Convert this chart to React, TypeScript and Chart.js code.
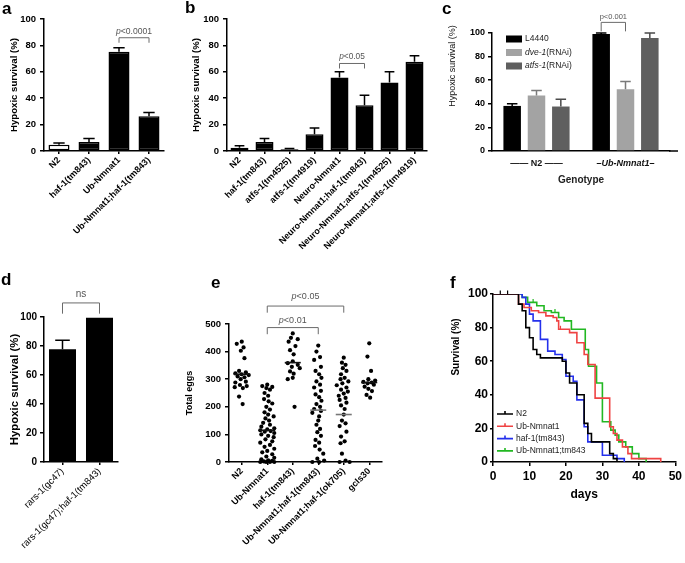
import React, { useEffect, useRef } from 'react';
import { Chart, registerables } from 'chart.js';

Chart.register(...registerables);

const FF = '"Liberation Sans", Arial, Helvetica, sans-serif';
const BLACK = '#000000';

// ---------------- Panel a ----------------
const aLabels = ['N2', 'haf-1(tm843)', 'Ub-Nmnat1', 'Ub-Nmnat1;haf-1(tm843)'];
const aMeans = [4.8, 6.8, 75.2, 26.3];
const aSem = [1.2, 2.6, 3.0, 2.8];
const aFills = ['#ffffff', '#000000', '#000000', '#000000'];

// ---------------- Panel b ----------------
const bLabels = [
  'N2', 'haf-1(tm843)', 'atfs-1(tm4525)', 'atfs-1(tm4919)', 'Neuro-Nmnat1',
  'Neuro-Nmnat1;haf-1(tm843)', 'Neuro-Nmnat1;atfs-1(tm4525)', 'Neuro-Nmnat1;atfs-1(tm4919)',
];
const bMeans = [2.5, 6.8, 1.3, 12.7, 55.7, 34.7, 51.9, 67.6];
const bSem = [1.5, 2.6, 0.5, 4.8, 4.3, 7.6, 8.1, 4.6];
const bFills = ['#ffffff', '#000000', '#000000', '#000000', '#000000', '#000000', '#000000', '#000000'];

// ---------------- Panel c ----------------
const cGroups = ['N2', 'Ub-Nmnat1'];
const cSeriesNames = ['L4440', 'dve-1', 'atfs-1'];
const cL4440 = [38.2, 99.2];
const cL4440Sem = [1.8, 0.8];
const cDve = [47.0, 52.4];
const cDveSem = [4.3, 6.5];
const cAtfs = [37.7, 95.8];
const cAtfsSem = [6.2, 4.2];
const cColors = ['#000000', '#a3a3a3', '#5f5f5f'];

// ---------------- Panel d ----------------
const dLabels = ['rars-1(gc47)', 'rars-1(gc47);haf-1(tm843)'];
const dMeans = [77.7, 99.5];
const dSem = [6.2, 0];

// ---------------- Panel e ----------------
const eLabels = ['N2', 'Ub-Nmnat1', 'haf-1(tm843)', 'Ub-Nmnat1;haf-1(tm843)', 'Ub-Nmnat1;haf-1(ok705)', 'gcIs30'];
const eN2 = [436, 428, 415, 403, 376, 330, 325, 321, 318, 315, 310, 307, 300, 291, 288, 279, 275, 271, 268, 237, 210];
const eUb = [280, 275, 272, 268, 262, 250, 240, 228, 220, 212, 200, 190, 180, 172, 165, 158, 150, 142, 135, 128, 122, 118, 115, 112, 110, 105, 100, 95, 90, 82, 75, 70, 62, 55, 48, 40, 35, 28, 20, 15, 10, 6, 4, 2, 0, 0, 0, 0];
const eHaf = [466, 450, 445, 436, 420, 405, 390, 365, 358, 352, 345, 340, 328, 320, 305, 300, 200];
const eUbHaf = [422, 400, 380, 370, 345, 330, 318, 305, 292, 280, 270, 258, 245, 235, 222, 210, 200, 192, 185, 178, 165, 150, 135, 120, 108, 95, 80, 70, 58, 45, 30, 12, 5, 0, 0];
const eUbOk = [378, 360, 352, 340, 330, 318, 305, 300, 292, 285, 278, 270, 262, 255, 248, 240, 232, 225, 215, 205, 192, 172, 150, 140, 130, 110, 92, 75, 68, 30, 5, 0, 0];
const eGc = [430, 382, 330, 300, 295, 290, 288, 285, 280, 273, 265, 257, 243, 233];
const eMedians = [318, 115, 360, 188, 172, 288];
const eMedianColors = ['#111111', '#111111', '#111111', '#777777', '#777777', '#111111'];

// ---------------- Panel f ----------------
const fNames = ['N2', 'Ub-Nmnat1', 'haf-1(tm843)', 'Ub-Nmnat1;tm843'];
const fColors = ['#000000', '#ef4343', '#2430ec', '#22b822'];
const fN2Days = [0, 7, 8, 9, 10, 11, 12, 13, 19, 20, 21, 23, 25, 26, 27, 32, 33, 34];
const fN2Surv = [100, 94, 90, 80, 74, 67, 64, 62, 60, 53, 47, 40, 23, 17, 12, 5, 2, 0];
const fUbDays = [0, 7, 8.5, 10.5, 12.5, 14.5, 16.5, 17.5, 18, 21, 23, 25, 26, 28, 32, 33, 34, 35.5, 37, 38, 46];
const fUbSurv = [100, 94, 92, 90, 89, 87, 86, 84, 79, 77, 71, 64, 58, 38, 21, 17, 13, 9, 5, 2, 0];
const fHafDays = [0, 8, 9, 10, 11, 13, 15, 17, 19, 20, 22, 23, 25, 26, 30, 34, 36];
const fHafSurv = [100, 98, 94, 88, 84, 73, 66, 64, 61, 51, 48, 37, 21, 12, 4, 2, 0];
const fUbTmDays = [0, 8, 9.5, 12, 14, 16, 18, 19.5, 21.5, 25.3, 26.2, 28.4, 30, 32.3, 33.5, 34.5, 36.4, 38.2, 40, 42];
const fUbTmSurv = [100, 98, 95, 93, 90, 89, 86, 84, 79, 67, 57, 47, 24, 19, 16, 12, 9, 5, 2, 0];
const fCensorN2 = [2, 4];
const fCensorUb = [18.5];
const fCensorUbTm = [11, 17];

// ---------------- helpers ----------------
const fnt = (size: number, weight: string = 'bold', style: string = 'normal') => ({ family: FF, size, weight, style, lineHeight: 1.2 });
const cssFont = (size: number, weight: string, italic?: boolean) => `${italic ? 'italic ' : ''}${weight} ${size}px ${FF}`;
type Part = { t: string; i?: boolean };
const pval = (s: string): Part[] => [{ t: 'p', i: true }, { t: s.slice(1) }];

function drawParts(ctx: CanvasRenderingContext2D, parts: Part[], x: number, y: number, size: number, weight: string, color: string, align = 'center', rot = 0) {
  ctx.save();
  ctx.translate(x, y);
  if (rot) ctx.rotate(rot);
  ctx.fillStyle = color;
  ctx.textBaseline = 'middle';
  ctx.textAlign = 'left';
  const widths = parts.map((p) => { ctx.font = cssFont(size, weight, p.i); return ctx.measureText(p.t).width; });
  const total = widths.reduce((a, b) => a + b, 0);
  let cx = align === 'center' ? -total / 2 : align === 'right' ? -total : 0;
  parts.forEach((p, k) => { ctx.font = cssFont(size, weight, p.i); ctx.fillText(p.t, cx, 0); cx += widths[k]; });
  ctx.restore();
}

function makeExtras(o: any) {
  return {
    id: 'extras',
    afterDraw(chart: any) {
      const ctx = chart.ctx as CanvasRenderingContext2D;
      const xs = chart.scales.x;
      const ys = chart.scales.y;
      const ca = chart.chartArea;
      const px = (r: any) => (typeof r === 'number' ? xs.getPixelForValue(r) : chart.getDatasetMeta(r.ds).data[r.i].x);
      ctx.save();
      if (o.extendX) {
        ctx.strokeStyle = BLACK; ctx.lineWidth = 1.5;
        ctx.beginPath(); ctx.moveTo(ca.right - 1, ca.bottom); ctx.lineTo(ca.right + o.extendX, ca.bottom); ctx.stroke();
      }
      (o.errors || []).forEach((errs: number[] | null, di: number) => {
        if (!errs) return;
        const meta = chart.getDatasetMeta(di);
        const data = chart.data.datasets[di].data as number[];
        ctx.strokeStyle = (o.errorColors && o.errorColors[di]) || BLACK;
        ctx.lineWidth = 1.5;
        meta.data.forEach((bar: any, i: number) => {
          const e = errs[i];
          if (!e) return;
          const yt = ys.getPixelForValue(data[i] + e);
          const hw = bar.width * (o.capFrac || 0.27);
          ctx.beginPath();
          ctx.moveTo(bar.x, bar.y); ctx.lineTo(bar.x, yt);
          ctx.moveTo(bar.x - hw, yt); ctx.lineTo(bar.x + hw, yt);
          ctx.stroke();
        });
      });
      if (o.medians) {
        o.medians.values.forEach((v: number, i: number) => {
          const x = xs.getPixelForValue(i);
          const y = ys.getPixelForValue(v);
          ctx.strokeStyle = o.medians.colors[i]; ctx.lineWidth = 1.6;
          ctx.beginPath(); ctx.moveTo(x - o.medians.half, y); ctx.lineTo(x + o.medians.half, y); ctx.stroke();
        });
      }
      (o.brackets || []).forEach((b: any) => {
        const x1 = px(b.a), x2 = px(b.b);
        const y = ys.getPixelForValue(b.y), yd = ys.getPixelForValue(b.drop);
        ctx.strokeStyle = '#6a6a6a'; ctx.lineWidth = 1;
        ctx.beginPath(); ctx.moveTo(x1, yd); ctx.lineTo(x1, y); ctx.lineTo(x2, y); ctx.lineTo(x2, yd); ctx.stroke();
        drawParts(ctx, b.text, (x1 + x2) / 2, ys.getPixelForValue(b.ty), b.size, 'normal', '#555555');
      });
      if (o.legendBoxes) {
        const L = o.legendBoxes;
        L.items.forEach((it: any, k: number) => {
          const y = L.y + k * L.dy;
          ctx.fillStyle = it.color;
          ctx.fillRect(L.x, y - L.h / 2, L.w, L.h);
          drawParts(ctx, it.parts, L.tx, y, L.size, 'normal', '#222222', 'left');
        });
      }
      if (o.legendLines) {
        const L = o.legendLines;
        L.items.forEach((it: any, k: number) => {
          const y = L.y + k * L.dy;
          ctx.strokeStyle = it.color; ctx.lineWidth = 1.6;
          ctx.beginPath(); ctx.moveTo(L.x, y); ctx.lineTo(L.x + L.w, y);
          ctx.moveTo(L.x + L.w / 2, y - 3); ctx.lineTo(L.x + L.w / 2, y); ctx.stroke();
          drawParts(ctx, it.parts, L.tx, y, L.size, 'normal', '#222222', 'left');
        });
      }
      (o.censor || []).forEach((c: any) => {
        const ds = chart.data.datasets[c.di].data as { x: number; y: number }[];
        c.days.forEach((d: number) => {
          let yv = ds[0].y;
          ds.forEach((p) => { if (p.x <= d) yv = p.y; });
          const x = xs.getPixelForValue(d), y = ys.getPixelForValue(yv);
          ctx.strokeStyle = c.color; ctx.lineWidth = 1.2;
          ctx.beginPath(); ctx.moveTo(x, y - 3.5); ctx.lineTo(x, y); ctx.stroke();
        });
      });
      (o.texts || []).forEach((t: any) => drawParts(ctx, t.parts, t.x, t.y, t.size, t.weight, t.color || BLACK, 'center', t.rot || 0));
      ctx.restore();
    },
  };
}

const baseOpts = (padding: any) => ({
  animation: false,
  responsive: false,
  maintainAspectRatio: false,
  events: [],
  layout: { padding },
  plugins: { legend: { display: false }, tooltip: { enabled: false }, title: { display: false } },
});

const catX = (size: number, height: number, weight = 'bold') => ({
  grid: { drawOnChartArea: false, offset: false, color: BLACK, lineWidth: 1.5, tickLength: 3 },
  border: { color: BLACK, width: 1.5 },
  ticks: { color: BLACK, font: fnt(size, weight), minRotation: 45, maxRotation: 45, autoSkip: false, padding: 1 },
  afterFit: (s: any) => { s.height = height; },
});

const linY = (min: number, max: number, step: number, size: number, width: number, pad: number, title?: any) => ({
  min, max,
  ticks: { stepSize: step, color: BLACK, font: fnt(size, 'bold'), padding: pad },
  grid: { drawOnChartArea: false, color: BLACK, lineWidth: 1.5, tickLength: 4 },
  border: { color: BLACK, width: 1.5 },
  title: title
    ? { display: true, text: title.text, color: BLACK, font: fnt(title.size, title.weight || 'bold'), padding: { top: title.pad, bottom: 0 } }
    : { display: false },
  afterFit: (s: any) => { s.width = width; },
});

// Compact scatter spread: horizontal offsets (in category units) kept within +-limit px,
// choosing the candidate slot that best avoids overlap with already placed dots.
function spread(vals: number[], yPx: number, catPx: number, r: number, limit: number): number[] {
  const pat = [0, -0.6, 0.6, -0.3, 0.9, -0.9, 0.3];
  const cands0 = [0, 3.2, -3.2, 6.4, -6.4, 1.6, -1.6, 4.8, -4.8];
  const placed: [number, number][] = [];
  return vals.map((v, i) => {
    const y = v * yPx;
    const base = pat[i % pat.length] * 3;
    let best = base;
    let bestD = -1;
    for (const c0 of cands0) {
      const c = Math.max(-limit, Math.min(limit, base + c0));
      const d = placed.reduce((m, [ppx, ppy]) => Math.min(m, Math.hypot(ppx - c, ppy - y)), 99);
      if (d >= 2 * r) { best = c; bestD = d; break; }
      if (d > bestD) { bestD = d; best = c; }
    }
    placed.push([best, y]);
    return best / catPx;
  });
}

// ---------------- chart configs ----------------
const makeA = () => ({
  type: 'bar',
  data: { labels: aLabels, datasets: [{ data: aMeans, backgroundColor: aFills, borderColor: BLACK, borderWidth: 1.5, borderSkipped: false, barPercentage: 0.7, categoryPercentage: 1 }] },
  options: {
    ...baseOpts({ top: 19, right: 19, bottom: 0, left: 0 }),
    scales: { x: catX(9, 124), y: linY(0, 100, 20, 9.5, 44, 4, { text: 'Hypoxic survival (%)', size: 9.6, pad: 9 }) },
  },
  plugins: [makeExtras({ errors: [aSem], brackets: [{ a: 2, b: 3, y: 85.8, drop: 82, ty: 90.6, text: pval('p<0.0001'), size: 8.6 }] })],
});

const makeB = () => ({
  type: 'bar',
  data: { labels: bLabels, datasets: [{ data: bMeans, backgroundColor: bFills, borderColor: BLACK, borderWidth: 1.5, borderSkipped: false, barPercentage: 0.72, categoryPercentage: 1 }] },
  options: {
    ...baseOpts({ top: 19, right: 11, bottom: 0, left: 0 }),
    scales: { x: catX(9, 124), y: linY(0, 100, 20, 9.5, 44, 4, { text: 'Hypoxic survival (%)', size: 9.6, pad: 8 }) },
  },
  plugins: [makeExtras({ errors: [bSem], brackets: [{ a: 4, b: 5, y: 66.3, drop: 62.5, ty: 71.6, text: pval('p<0.05'), size: 8.3 }] })],
});

const makeC = () => ({
  type: 'bar',
  data: {
    labels: cGroups,
    datasets: [cL4440, cDve, cAtfs].map((d, k) => ({ label: cSeriesNames[k], data: d, backgroundColor: cColors[k], borderWidth: 0, barPercentage: 0.72, categoryPercentage: 0.82 })),
  },
  options: {
    ...baseOpts({ top: 33, right: 15, bottom: 0, left: 0 }),
    scales: {
      x: {
        grid: { drawOnChartArea: false, drawTicks: false, offset: false, color: BLACK, lineWidth: 1.5 },
        border: { color: BLACK, width: 1.5 },
        ticks: {
          color: '#111111', padding: 7, autoSkip: false, maxRotation: 0, minRotation: 0,
          font: (c: any) => fnt(9, 'bold', c.index === 1 ? 'italic' : 'normal'),
          callback: (_v: any, i: number) => (i === 0 ? `—— ${cGroups[0]} ——` : `–${cGroups[1]}–`),
        },
        title: { display: true, text: 'Genotype', color: '#222222', font: fnt(10, 'bold'), padding: { top: 0, bottom: 89 } },
        afterFit: (s: any) => { s.height = 124; },
      },
      y: linY(0, 100, 20, 9, 52, 3),
    },
  },
  plugins: [makeExtras({
    extendX: 8,
    errors: [cL4440Sem, cDveSem, cAtfsSem],
    errorColors: ['#000000', '#7a7a7a', '#4a4a4a'],
    capFrac: 0.3,
    brackets: [{ a: { ds: 0, i: 1 }, b: { ds: 1, i: 1 }, y: 109, drop: 101.4, ty: 113.8, text: [{ t: 'p<0.001' }], size: 7.5 }],
    legendBoxes: {
      x: 66, y: 39, dy: 13.5, w: 16, h: 7, tx: 85, size: 8.5,
      items: [
        { color: cColors[0], parts: [{ t: 'L4440' }] },
        { color: cColors[1], parts: [{ t: cSeriesNames[1], i: true }, { t: '(RNAi)' }] },
        { color: cColors[2], parts: [{ t: cSeriesNames[2], i: true }, { t: '(RNAi)' }] },
      ],
    },
    texts: [{ parts: [{ t: 'Hypoxic survival (%)' }], x: 13, y: 66, size: 9, weight: 'normal', rot: -Math.PI / 2, color: '#111111' }],
  })],
});

const makeD = () => ({
  type: 'bar',
  data: { labels: dLabels, datasets: [{ data: dMeans, backgroundColor: BLACK, borderWidth: 0, barPercentage: 0.73, categoryPercentage: 1 }] },
  options: {
    ...baseOpts({ top: 37, right: 62, bottom: 0, left: 0 }),
    scales: { x: catX(9.5, 101, 'normal'), y: linY(0, 100, 20, 10, 44, 3, { text: 'Hypoxic survival (%)', size: 11.4, pad: 8 }) },
  },
  plugins: [makeExtras({ errors: [dSem], brackets: [{ a: 0, b: 1, y: 109.7, drop: 102.3, ty: 115.5, text: [{ t: 'ns' }], size: 10 }] })],
});

const makeE = () => {
  const groups = [eN2, eUb, eHaf, eUbHaf, eUbOk, eGc];
  return {
    type: 'scatter',
    data: {
      datasets: groups.map((vals, gi) => {
        const off = spread(vals, 138 / 500, 25.5, 2.1, 7);
        return {
          data: vals.map((v, i) => ({ x: gi + off[i], y: v })),
          pointRadius: 2.1, pointBackgroundColor: BLACK, pointBorderWidth: 0, showLine: false, clip: false,
        };
      }),
    },
    options: {
      ...baseOpts({ top: 44, right: 58, bottom: 0, left: 0 }),
      scales: {
        x: {
          type: 'linear', min: -0.5, max: 5.5,
          afterBuildTicks: (s: any) => { s.ticks = eLabels.map((_l, i) => ({ value: i })); },
          grid: { drawOnChartArea: false, color: BLACK, lineWidth: 1.5, tickLength: 3 },
          border: { color: BLACK, width: 1.5 },
          ticks: { color: BLACK, font: fnt(9, 'bold'), minRotation: 45, maxRotation: 45, autoSkip: false, padding: 1, callback: (v: any) => eLabels[Math.round(v)] ?? '' },
          afterFit: (s: any) => { s.height = 101; },
        },
        y: linY(0, 500, 100, 9.5, 49, 4, { text: 'Total eggs', size: 9, pad: 4.6 }),
      },
    },
    plugins: [makeExtras({
      medians: { values: eMedians, colors: eMedianColors, half: 8 },
      brackets: [
        { a: 1, b: 3, y: 487, drop: 463, ty: 513, text: pval('p<0.01'), size: 9 },
        { a: 1, b: 4, y: 565, drop: 541, ty: 598, text: pval('p<0.05'), size: 9 },
      ],
    })],
  };
};

const makeF = () => {
  const series = [
    { days: fN2Days, surv: fN2Surv },
    { days: fUbDays, surv: fUbSurv },
    { days: fHafDays, surv: fHafSurv },
    { days: fUbTmDays, surv: fUbTmSurv },
  ];
  return {
    type: 'line',
    data: {
      datasets: series.map((s, k) => ({
        label: fNames[k],
        data: s.days.map((d, i) => ({ x: d, y: s.surv[i] })),
        borderColor: fColors[k], borderWidth: 1.6, stepped: true, pointRadius: 0, fill: false, tension: 0,
      })),
    },
    options: {
      ...baseOpts({ top: 14, right: 8, bottom: 0, left: 0 }),
      scales: {
        x: {
          type: 'linear', min: 0, max: 50,
          ticks: { stepSize: 10, color: BLACK, font: fnt(12, 'bold'), padding: 3, maxRotation: 0 },
          grid: { drawOnChartArea: false, color: BLACK, lineWidth: 1.5, tickLength: 4 },
          border: { color: BLACK, width: 1.5 },
          title: { display: true, text: 'days', color: BLACK, font: fnt(12, 'bold'), padding: { top: 0, bottom: 61 } },
          afterFit: (s: any) => { s.height = 101; },
        },
        y: {
          min: 0, max: 100,
          ticks: { stepSize: 20, color: BLACK, font: fnt(12, 'bold'), padding: 2 },
          grid: { drawOnChartArea: false, color: BLACK, lineWidth: 1.5, tickLength: 3 },
          border: { color: BLACK, width: 1.5 },
          afterFit: (s: any) => { s.width = 48; },
        },
      },
    },
    plugins: [makeExtras({
      censor: [
        { di: 0, days: fCensorN2, color: fColors[0] },
        { di: 1, days: fCensorUb, color: fColors[1] },
        { di: 3, days: fCensorUbTm, color: fColors[3] },
      ],
      legendLines: {
        x: 52, y: 134, dy: 12.3, w: 16, tx: 71, size: 8.5,
        items: fNames.map((n, k) => ({ color: fColors[k], parts: [{ t: n }] })),
      },
      texts: [{ parts: [{ t: 'Survival (%)' }], x: 11, y: 67, size: 10, weight: 'bold', rot: -Math.PI / 2 }],
    })],
  };
};

function ChartBox(props: { left: number; top: number; width: number; height: number; make: () => any }) {
  const ref = useRef<HTMLCanvasElement | null>(null);
  useEffect(() => {
    if (!ref.current) return;
    const chart = new Chart(ref.current, props.make());
    return () => chart.destroy();
  }, []);
  return (
    <canvas
      ref={ref}
      width={props.width}
      height={props.height}
      style={{ position: 'absolute', left: props.left, top: props.top, width: props.width, height: props.height }}
    />
  );
}

function Letter(props: { ch: string; left: number; top: number }) {
  return (
    <div style={{ position: 'absolute', left: props.left, top: props.top, font: `bold 17px ${FF}`, lineHeight: '17px', color: '#000' }}>
      {props.ch}
    </div>
  );
}

export default function App() {
  return (
    <div style={{ position: 'absolute', left: 0, top: 0, width: 685, height: 563, background: '#ffffff', overflow: 'hidden' }}>
      <ChartBox left={0} top={0} width={183} height={275} make={makeA} />
      <ChartBox left={183} top={0} width={255} height={275} make={makeB} />
      <ChartBox left={440} top={0} width={245} height={275} make={makeC} />
      <ChartBox left={0} top={280} width={180} height={283} make={makeD} />
      <ChartBox left={180} top={280} width={260} height={283} make={makeE} />
      <ChartBox left={445} top={280} width={240} height={283} make={makeF} />
      <Letter ch="a" left={2} top={0} />
      <Letter ch="b" left={185} top={-1} />
      <Letter ch="c" left={442} top={0} />
      <Letter ch="d" left={1} top={271} />
      <Letter ch="e" left={211} top={274} />
      <Letter ch="f" left={450} top={274} />
    </div>
  );
}
